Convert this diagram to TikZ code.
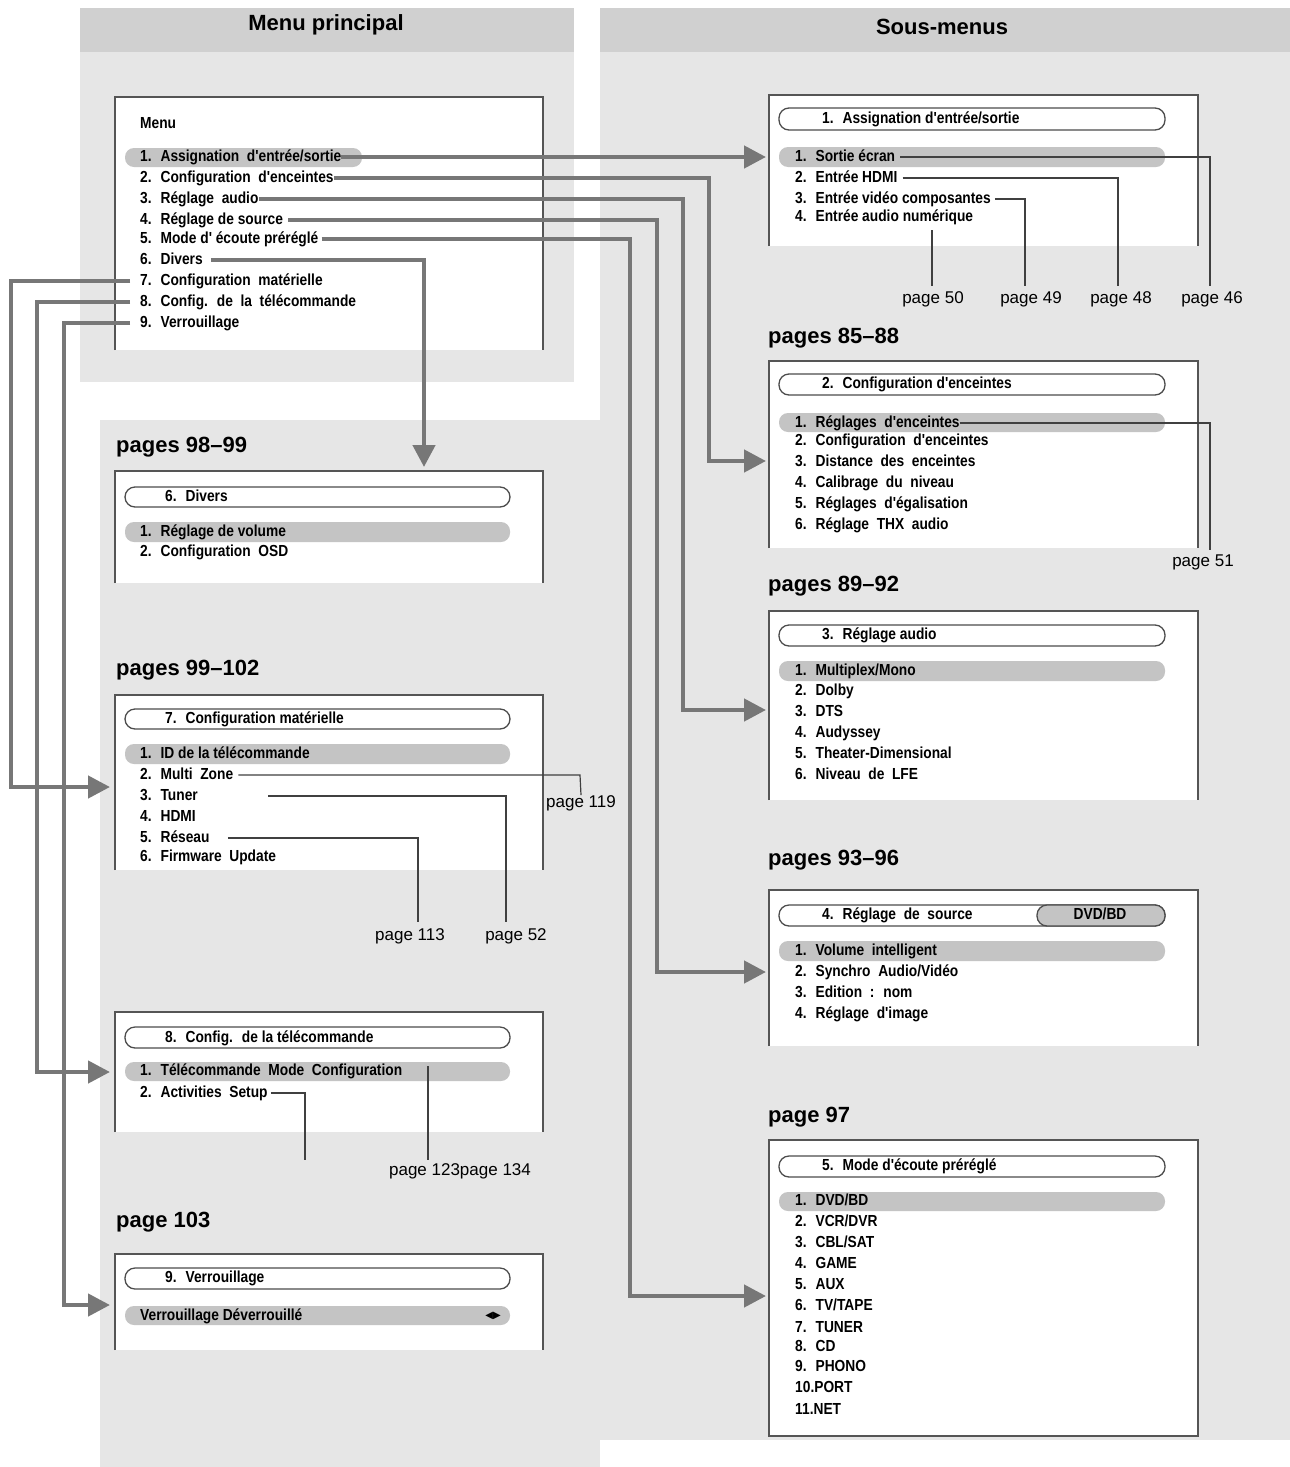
\documentclass[tikz,border=0pt]{standalone}
\usepackage{fontspec}
\setmainfont{Liberation Sans}
\newfontfamily\nar[FakeStretch=0.86]{Liberation Sans}
\newfontfamily\dejavu{DejaVu Sans}
\usetikzlibrary{arrows.meta}
\definecolor{bgl}{HTML}{E6E6E6}
\definecolor{hdr}{HTML}{D0D0D0}
\definecolor{arrc}{HTML}{777777}
\definecolor{hl}{HTML}{C4C4C4}
\definecolor{boxc}{HTML}{555555}
\tikzset{
 item/.style={anchor=west,inner sep=0,font=\nar\bfseries\fontsize{16}{16}\selectfont,text height=11,text depth=3},
 pg/.style={anchor=west,inner sep=0,font=\fontsize{17}{17}\selectfont},
 lbl/.style={inner sep=0,font=\fontsize{17}{17}\selectfont},
 head/.style={anchor=west,inner sep=0,font=\bfseries\fontsize{22}{22}\selectfont},
 arr/.style={draw=arrc,line width=4.5,-{Triangle[length=22,width=22]}},
 lin/.style={draw=arrc,line width=4.5},
 lead/.style={draw=black!75,line width=1.2},
 boxl/.style={draw=boxc,line width=1.6},
 pill/.style={draw=black!70,fill=white,line width=1.3,rounded corners=10},
 hlp/.style={fill=hl,rounded corners=9},
}
\newcommand\openbox[4]{\fill[white] (#1,#2) rectangle (#3,#4); \draw[boxl] (#1,#4)--(#1,#2)--(#3,#2)--(#3,#4);}
\begin{document}
\begin{tikzpicture}[x=1pt,y=-1pt]
\useasboundingbox (0,0) rectangle (1290,1467);
% backgrounds
\fill[bgl] (80,8) rectangle (574,382);
\fill[hdr] (80,8) rectangle (574,52);
\fill[bgl] (600,8) rectangle (1290,1440);
\fill[hdr] (600,8) rectangle (1290,52);
\fill[bgl] (100,420) rectangle (600,1467);
\node[inner sep=0,font=\bfseries\fontsize{22}{22}\selectfont] (h1) at (326,25) {Menu principal};
\node[inner sep=0,font=\bfseries\fontsize{22}{22}\selectfont] (h2) at (942,27) {Sous-menus};
% main menu
\openbox{115}{97}{543}{350}
\node[item] (menu) at (140,124) {Menu};
\fill[hlp] (125,148) rectangle (362,167);
\node[item] (m1) at (140,157) {1.~ Assignation~ d'entrée/sortie};
\node[item] (m2) at (140,178) {2.~ Configuration~ d'enceintes};
\node[item] (m3) at (140,199) {3.~ Réglage~ audio};
\node[item] (m4) at (140,220) {4.~ Réglage de source};
\node[item] (m5) at (140,239) {5.~ Mode d' écoute préréglé};
\node[item] (m6) at (140,260) {6.~ Divers};
\node[item] (m7) at (140,281) {7.~ Configuration~ matérielle};
\node[item] (m8) at (140,302) {8.~ Config.~ de~ la~ télécommande};
\node[item] (m9) at (140,323) {9.~ Verrouillage};
% box 6
\node[head] (p6) at (116,447) {pages 98--99};
\openbox{115}{471}{543}{583}
\draw[pill] (125,487) rectangle (510,507);
\node[item] (t6) at (165,497) {6.~ Divers};
\fill[hlp] (125,522) rectangle (510,542);
\node[item] (d1) at (140,532) {1.~ Réglage de volume};
\node[item] (d2) at (140,552) {2.~ Configuration~ OSD};
% box 7
\node[head] (p7) at (116,670) {pages 99--102};
\openbox{115}{695}{543}{870}
\draw[pill] (125,709) rectangle (510,729);
\node[item] (t7) at (165,719) {7.~ Configuration matérielle};
\fill[hlp] (125,744) rectangle (510,764);
\node[item] (c1) at (140,754) {1.~ ID de la télécommande};
\node[item] (c2) at (140,775) {2.~ Multi~ Zone};
\node[item] (c3) at (140,796) {3.~ Tuner};
\node[item] (c4) at (140,817) {4.~ HDMI};
\node[item] (c5) at (140,838) {5.~ Réseau};
\node[item] (c6) at (140,857) {6.~ Firmware~ Update};
\node[lbl] (l119) at (581,803) {page 119};
\node[lbl] (l52) at (516,936) {page 52};
\node[lbl] (l113) at (410,936) {page 113};
\draw[lead] ([xshift=5]c2.east) -- (580,775) -- (l119.north);
\draw[lead] ([xshift=70]c3.east) -- (506,796) -- (506,922);
\draw[lead] ([xshift=18]c5.east) -- (418,838) -- (418,922);
% box 8
\openbox{115}{1012}{543}{1132}
\draw[pill] (125,1027) rectangle (510,1048);
\node[item] (t8) at (165,1038) {8.~ Config.~ de la télécommande};
\fill[hlp] (125,1062) rectangle (510,1081);
\node[item] (r1) at (140,1071) {1.~ Télécommande~ Mode~ Configuration};
\node[item] (r2) at (140,1093) {2.~ Activities~ Setup};
\node[lbl] (l123) at (460,1171) {page 123page 134};
\draw[lead] ([xshift=3]r2.east) -- (305,1093) -- (305,1160);
\draw[lead] (428,1066) -- (428,1160);
% box 9
\node[head] (p9) at (116,1222) {page 103};
\openbox{115}{1254}{543}{1350}
\draw[pill] (125,1268) rectangle (510,1289);
\node[item] (t9) at (165,1278) {9.~ Verrouillage};
\fill[hlp] (125,1306) rectangle (510,1325);
\node[item] (v1) at (140,1316) {Verrouillage Déverrouillé};
\node[inner sep=0,font=\dejavu\fontsize{10}{10}\selectfont] (vv) at (493,1316) {◀▶};
% right box 1
\openbox{769}{95}{1198}{246}
\draw[pill] (779,108) rectangle (1165,130);
\node[item] (ta) at (822,119) {1.~ Assignation d'entrée/sortie};
\fill[hlp] (779,147) rectangle (1165,167);
\node[item] (a1) at (795,157) {1.~ Sortie écran};
\node[item] (a2) at (795,178) {2.~ Entrée HDMI};
\node[item] (a3) at (795,199) {3.~ Entrée vidéo composantes};
\node[item] (a4) at (795,217) {4.~ Entrée audio numérique};
\node[lbl] (l50) at (933,299) {page 50};
\node[lbl] (l49) at (1031,299) {page 49};
\node[lbl] (l48) at (1121,299) {page 48};
\node[lbl] (l46) at (1212,299) {page 46};
\draw[lead] ([xshift=5]a1.east) -- (1210,157) -- (1210,286);
\draw[lead] ([xshift=5]a2.east) -- (1118,178) -- (1118,286);
\draw[lead] ([xshift=4]a3.east) -- (1025,199) -- (1025,286);
\draw[lead] (932,230) -- (932,286);
% right box 2
\node[head] (pa) at (768,338) {pages 85--88};
\openbox{769}{361}{1198}{548}
\draw[pill] (779,374) rectangle (1165,395);
\node[item] (tb) at (822,384) {2.~ Configuration d'enceintes};
\fill[hlp] (779,413) rectangle (1165,432);
\node[item] (b1) at (795,423) {1.~ Réglages~ d'enceintes};
\node[item] (b2) at (795,441) {2.~ Configuration~ d'enceintes};
\node[item] (b3) at (795,462) {3.~ Distance~ des~ enceintes};
\node[item] (b4) at (795,483) {4.~ Calibrage~ du~ niveau};
\node[item] (b5) at (795,504) {5.~ Réglages~ d'égalisation};
\node[item] (b6) at (795,525) {6.~ Réglage~ THX~ audio};
\node[lbl] (l51) at (1203,562) {page 51};
\draw[lead] (b1.east) -- (1210,423) -- (1210,550);
% right box 3
\node[head] (pb) at (768,586) {pages 89--92};
\openbox{769}{611}{1198}{800}
\draw[pill] (779,625) rectangle (1165,646);
\node[item] (tc) at (822,635) {3.~ Réglage audio};
\fill[hlp] (779,661) rectangle (1165,681);
\node[item] (e1) at (795,671) {1.~ Multiplex/Mono};
\node[item] (e2) at (795,691) {2.~ Dolby};
\node[item] (e3) at (795,712) {3.~ DTS};
\node[item] (e4) at (795,733) {4.~ Audyssey};
\node[item] (e5) at (795,754) {5.~ Theater-Dimensional};
\node[item] (e6) at (795,775) {6.~ Niveau~ de~ LFE};
% right box 4
\node[head] (pc) at (768,860) {pages 93--96};
\openbox{769}{890}{1198}{1046}
\draw[pill] (779,905) rectangle (1165,926);
\fill[hl,draw=black!70,line width=1.3,rounded corners=10] (1037,905) rectangle (1165,926);
\node[item] (td) at (822,915) {4.~ Réglage~ de~ source};
\node[item,anchor=center] (dvd) at (1100,915) {DVD/BD};
\fill[hlp] (779,941) rectangle (1165,961);
\node[item] (f1) at (795,951) {1.~ Volume~ intelligent};
\node[item] (f2) at (795,972) {2.~ Synchro~ Audio/Vidéo};
\node[item] (f3) at (795,993) {3.~ Edition~ :~ nom};
\node[item] (f4) at (795,1014) {4.~ Réglage~ d'image};
% right box 5
\node[head] (pd) at (768,1117) {page 97};
\fill[white] (769,1140) rectangle (1198,1436);
\draw[boxl] (769,1140) rectangle (1198,1436);
\draw[pill] (779,1156) rectangle (1165,1177);
\node[item] (te) at (822,1166) {5.~ Mode d'écoute préréglé};
\fill[hlp] (779,1192) rectangle (1165,1211);
\node[item] (g1) at (795,1201) {1.~ DVD/BD};
\node[item] (g2) at (795,1222) {2.~ VCR/DVR};
\node[item] (g3) at (795,1243) {3.~ CBL/SAT};
\node[item] (g4) at (795,1264) {4.~ GAME};
\node[item] (g5) at (795,1285) {5.~ AUX};
\node[item] (g6) at (795,1306) {6.~ TV/TAPE};
\node[item] (g7) at (795,1328) {7.~ TUNER};
\node[item] (g8) at (795,1347) {8.~ CD};
\node[item] (g9) at (795,1367) {9.~ PHONO};
\node[item] (g10) at (795,1388) {10.PORT};
\node[item] (g11) at (795,1410) {11.NET};
% connectors
\coordinate (ta1) at (766,157);
\coordinate (ta2) at (766,461);
\coordinate (ta3) at (766,710);
\coordinate (ta4) at (766,972);
\coordinate (ta5) at (766,1296);
\coordinate (ta6) at (424,467);
\coordinate (ta7) at (110,787);
\coordinate (ta8) at (110,1072);
\coordinate (ta9) at (110,1305);
\draw[arr] (m1.east) -- (ta1);
\draw[arr] (m2.east) -- (709,178) -- (709,461) -- (ta2);
\draw[arr] (m3.east) -- (683,199) -- (683,710) -- (ta3);
\draw[arr] ([xshift=5]m4.east) -- (657,220) -- (657,972) -- (ta4);
\draw[arr] ([xshift=3]m5.east) -- (630,239) -- (630,1296) -- (ta5);
\draw[arr] ([xshift=8]m6.east) -- (424,260) -- (ta6);
\draw[arr] ([xshift=-10]m7.west) -- (11,281) -- (11,787) -- (ta7);
\draw[arr] ([xshift=-10]m8.west) -- (37,302) -- (37,1072) -- (ta8);
\draw[arr] ([xshift=-10]m9.west) -- (64,323) -- (64,1305) -- (ta9);
\end{tikzpicture}
\end{document}
